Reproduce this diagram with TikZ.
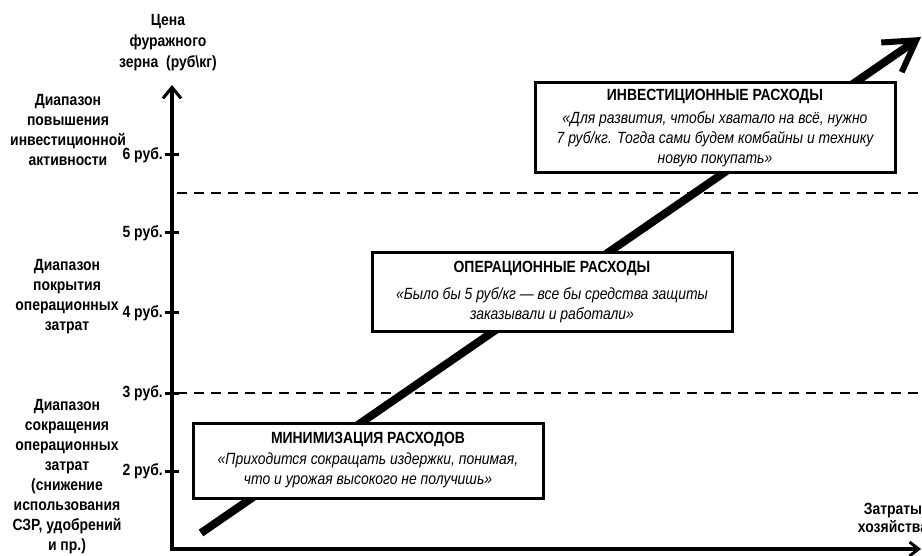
\documentclass[tikz,border=0pt]{standalone}
\usepackage{fontspec}
\setmainfont{Liberation Sans}[FakeStretch=0.86]
\usetikzlibrary{arrows.meta}
\begin{document}
\begin{tikzpicture}[x=1pt,y=-1pt,
  lbl/.style={font=\fontsize{16.2}{20}\selectfont\bfseries, align=center, inner sep=0pt},
  tlbl/.style={font=\fontsize{16.2}{17}\selectfont\bfseries, anchor=east, inner sep=0pt},
  axisline/.style={line width=4pt, line join=miter},
  tickline/.style={line width=3pt},
  dashline/.style={line width=2.5pt, dash pattern=on 10pt off 7pt},
  bigarrow/.style={line width=8pt, -{Straight Barb[length=30pt,width=36pt,line width=6pt]}},
  box/.style={draw, line width=3pt, fill=white, align=center, inner sep=0pt, font=\fontsize{16.2}{20}\selectfont}
]
\useasboundingbox (0,0) rectangle (922,556);
\clip (0,0) rectangle (922,556);

% dashed range borders
\coordinate (d1a) at (177,193); \coordinate (d1b) at (922,193);
\coordinate (d2a) at (177,393); \coordinate (d2b) at (922,393);
\draw[dashline] (d1a) -- (d1b);
\draw[dashline] (d2a) -- (d2b);

% big trend arrow
\coordinate (As) at (201,533);
\coordinate (Ae) at (921,37);
\draw[bigarrow] (As) -- (Ae);

% axes
\coordinate (O) at (172,549);
\coordinate (YT) at (172,85);
\coordinate (XT) at (921,549);
\draw[axisline, {Straight Barb[length=11pt,width=18pt,line width=3pt]}-{Straight Barb[length=9pt,width=14pt,line width=3pt]}] (YT) -- (O) -- (XT);

% ticks
\foreach \yy/\vv in {155/6, 233/5, 313/4, 393/3, 471/2}{
  \coordinate (tl\vv) at (165,\yy);
  \coordinate (tr\vv) at (179,\yy);
  \draw[tickline] (tl\vv) -- (tr\vv);
  \node[tlbl] (tk\vv) at (163,\yy) {\vv{} руб.};
}

% boxes
\node[box, minimum width=360pt, minimum height=90pt] (binv) at (715,128)
  {{\bfseries ИНВЕСТИЦИОННЫЕ РАСХОДЫ}\\[3pt]
   {\itshape «Для развития, чтобы хватало на всё, нужно}\\
   {\itshape 7 руб/кг. Тогда сами будем комбайны и технику}\\
   {\itshape новую покупать»}};
\node[box, minimum width=360pt, minimum height=79pt] (bop) at (552,292.5)
  {{\bfseries ОПЕРАЦИОННЫЕ РАСХОДЫ}\\[7pt]
   {\itshape «Было бы 5 руб/кг — все бы средства защиты}\\
   {\itshape заказывали и работали»}};
\node[box, minimum width=350pt, minimum height=75pt] (bmin) at (368,460.5)
  {{\bfseries МИНИМИЗАЦИЯ РАСХОДОВ}\\[1pt]
   {\itshape «Приходится сокращать издержки, понимая,}\\
   {\itshape что и урожая высокого не получишь»}};

% axis titles
\node[lbl, font=\fontsize{16.2}{21}\selectfont\bfseries] (ytitle) at (168,43)
  {Цена\\фуражного\\зерна\ \ (руб\textbackslash кг)};
\node[lbl, font=\fontsize{16.2}{18}\selectfont\bfseries] (xtitle) at (893,518)
  {Затраты\\хозяйства};

% range labels
\node[lbl] (r1) at (68,130) {Диапазон\\повышения\\инвестиционной\\активности};
\node[lbl] (r2) at (67,297) {Диапазон\\покрытия\\операционных\\затрат};
\node[lbl] (r3) at (67,477) {Диапазон\\сокращения\\операционных\\затрат\\(снижение\\использования\\СЗР, удобрений\\и пр.)};
\end{tikzpicture}
\end{document}
